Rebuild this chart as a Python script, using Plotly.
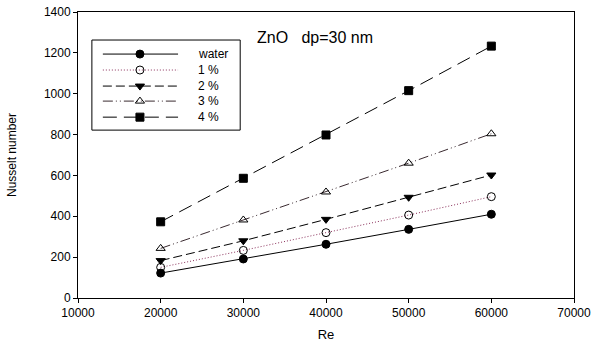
import plotly.graph_objects as go

# ---- data ----
re_values = [20000, 30000, 40000, 50000, 60000]
nu_water = [122, 191, 263, 336, 410]
nu_1pct = [150, 233, 320, 406, 496]
nu_2pct = [183, 280, 385, 493, 602]
nu_3pct = [243, 382, 519, 660, 804]
nu_4pct = [373, 586, 798, 1015, 1233]

series_names = ["water", "1 %", "2 %", "3 %", "4 %"]
series_values = [nu_water, nu_1pct, nu_2pct, nu_3pct, nu_4pct]

x_ticks = [10000, 20000, 30000, 40000, 50000, 60000, 70000]
y_ticks = [0, 200, 400, 600, 800, 1000, 1200, 1400]

# ---- styles ----
styles = [
    dict(color="black", dash="solid", symbol="circle", mcolor="black"),
    dict(color="#8a2f5a", dash="1px,2px", symbol="circle-open", mcolor="black"),
    dict(color="black", dash="9px,4px", symbol="triangle-down", mcolor="black"),
    dict(color="#3a2a30", dash="10px,3px,1px,3px,1px,3px", symbol="triangle-up-open", mcolor="black"),
    dict(color="black", dash="14px,7px", symbol="square", mcolor="black"),
]

FONT = "Liberation Sans, Arial, sans-serif"

fig = go.Figure()
for name, vals, st in zip(series_names, series_values, styles):
    fig.add_trace(go.Scatter(
        x=re_values, y=vals, mode="lines+markers", name=name,
        line=dict(color=st["color"], width=1, dash=st["dash"]),
        marker=dict(symbol=st["symbol"], size=8, color=st["mcolor"],
                    line=dict(color="black", width=1)),
        showlegend=False, cliponaxis=False,
    ))

# ---- manual legend drawn on an auxiliary axis ----
leg_rows = [0.156, 0.333, 0.511, 0.678, 0.856]
sample_x = [0.074, 0.324, 0.581]
for name, row, st in zip(series_names, leg_rows, styles):
    fig.add_trace(go.Scatter(
        x=sample_x, y=[row] * 3, mode="lines", xaxis="x2", yaxis="y2",
        line=dict(color=st["color"], width=1, dash=st["dash"]),
        showlegend=False, hoverinfo="skip",
    ))
    fig.add_trace(go.Scatter(
        x=[sample_x[1]], y=[row], mode="markers", xaxis="x2", yaxis="y2",
        marker=dict(symbol=st["symbol"], size=8, color=st["mcolor"],
                    line=dict(color="black", width=1)),
        showlegend=False, hoverinfo="skip",
    ))
    fig.add_annotation(x=0.7, y=row, xref="x2", yref="y2", text=name,
                       showarrow=False, xanchor="left", yanchor="middle",
                       font=dict(size=12, color="black", family=FONT))

fig.add_shape(type="rect", xref="x2 domain", yref="y2 domain",
              x0=0, x1=1, y0=0, y1=1, line=dict(color="black", width=1),
              fillcolor="rgba(0,0,0,0)")

fig.add_annotation(x=0.357, y=0.91, xref="paper", yref="paper",
                   text="ZnO&nbsp;&nbsp;&nbsp;dp=30 nm", showarrow=False,
                   xanchor="left", yanchor="middle",
                   font=dict(size=16, color="black", family=FONT))

fig.update_layout(
    width=595, height=347,
    margin=dict(l=78, r=21, t=12, b=49, autoexpand=False),
    paper_bgcolor="white", plot_bgcolor="white",
    font=dict(family=FONT, size=12, color="black"),
    xaxis=dict(range=[10000, 70000], tickvals=x_ticks,
               ticktext=[str(v) for v in x_ticks], automargin=False,
               showgrid=False, zeroline=False, showline=True,
               linecolor="black", linewidth=1, mirror=True,
               ticks="outside", ticklen=4, tickcolor="black",
               title=dict(text="Re", font=dict(size=13), standoff=10)),
    yaxis=dict(range=[0, 1400], tickvals=y_ticks,
               ticktext=[str(v) for v in y_ticks], automargin=False,
               showgrid=False, zeroline=False, showline=True,
               linecolor="black", linewidth=1, mirror=True,
               ticks="outside", ticklen=4, tickcolor="black",
               title=dict(text="Nusselt number", font=dict(size=12), standoff=24)),
    xaxis2=dict(domain=[0.028, 0.327], range=[0, 1], anchor="y2",
                visible=False, fixedrange=True),
    yaxis2=dict(domain=[0.587, 0.902], range=[1, 0], anchor="x2",
                visible=False, fixedrange=True),
)

fig.write_html("out.html")
